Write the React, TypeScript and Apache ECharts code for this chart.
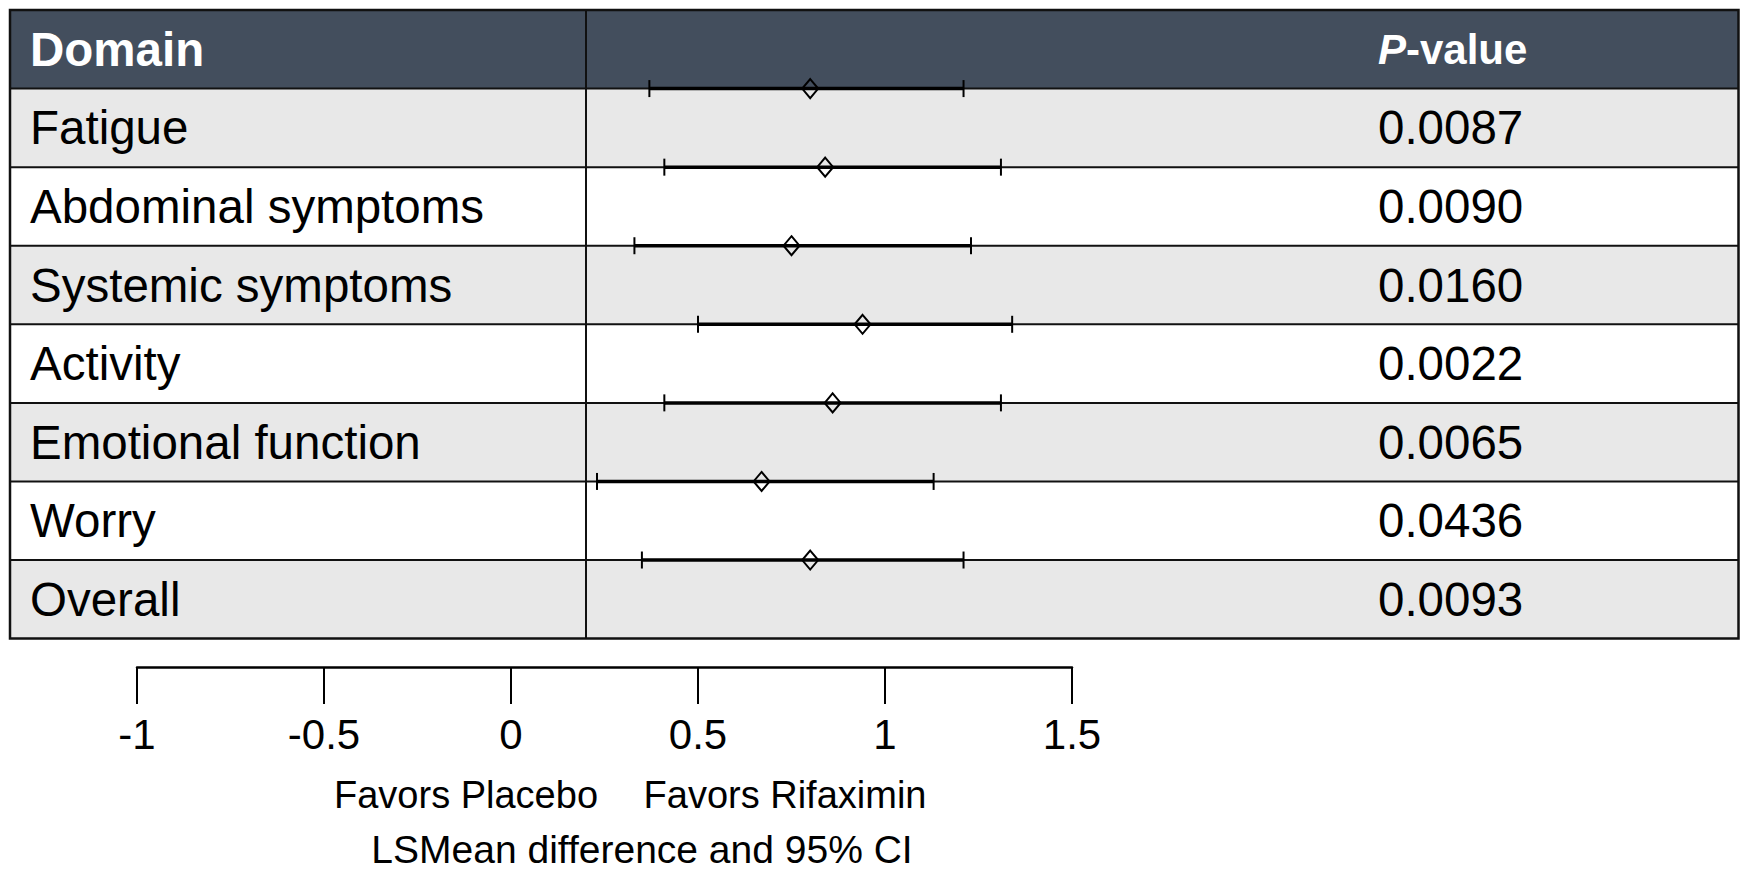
import React, { useEffect, useRef } from "react";
import * as echarts from "echarts";

const categories = [
  "Domain",
  "Fatigue",
  "Abdominal symptoms",
  "Systemic symptoms",
  "Activity",
  "Emotional function",
  "Worry",
  "Overall",
];
const pValues = ["P-value", "0.0087", "0.0090", "0.0160", "0.0022", "0.0065", "0.0436", "0.0093"];
const lsMean = [0.8, 0.84, 0.75, 0.94, 0.86, 0.67, 0.8];
const ciLow = [0.37, 0.41, 0.33, 0.5, 0.41, 0.23, 0.35];
const ciHigh = [1.21, 1.31, 1.23, 1.34, 1.31, 1.13, 1.21];
const xTicks = { min: -1, max: 1.5, interval: 0.5 };
const favorsLeft = "Favors Placebo";
const favorsRight = "Favors Rifaximin";
const axisTitle = "LSMean difference and 95% CI";

const FONT = "'Liberation Sans', Arial, Helvetica, sans-serif";
const W = 1744;
const H = 869;
const T_LEFT = 10;
const T_RIGHT = 1738.5;
const T_TOP = 10;
const T_BOTTOM = 638.6;
const DIVIDER_X = 586;
const AX_LEFT = 137;
const AX_RIGHT = 1072;
const AX_Y = 667;
const HEADER_BG = "#434E5D";
const GREY_BG = "#E8E8E8";

export default function App() {
  const ref = useRef<HTMLDivElement>(null);
  useEffect(() => {
    document.body.style.margin = "0";
    document.body.style.overflow = "hidden";
    if (!ref.current) return;
    const chart = echarts.init(ref.current, undefined, { renderer: "svg" });
    const n = categories.length;
    const rowH = (T_BOTTOM - T_TOP) / n;

    const graphics: any[] = [];
    for (let i = 0; i < n; i++) {
      graphics.push({
        type: "rect",
        z: -10,
        silent: true,
        shape: { x: T_LEFT, y: T_TOP + i * rowH, width: T_RIGHT - T_LEFT, height: rowH },
        style: { fill: i === 0 ? HEADER_BG : i % 2 === 1 ? GREY_BG : "#FFFFFF" },
      });
    }
    for (let i = 1; i < n; i++) {
      const y = T_TOP + i * rowH;
      graphics.push({
        type: "line",
        z: -9,
        silent: true,
        shape: { x1: T_LEFT, y1: y, x2: T_RIGHT, y2: y },
        style: { stroke: "#111", lineWidth: 2 },
      });
    }
    graphics.push({
      type: "line",
      z: -9,
      silent: true,
      shape: { x1: DIVIDER_X, y1: T_TOP, x2: DIVIDER_X, y2: T_BOTTOM },
      style: { stroke: "#111", lineWidth: 2 },
    });
    graphics.push({
      type: "rect",
      z: -9,
      silent: true,
      shape: { x: T_LEFT, y: T_TOP, width: T_RIGHT - T_LEFT, height: T_BOTTOM - T_TOP },
      style: { fill: "none", stroke: "#111", lineWidth: 2.5 },
    });
    graphics.push({
      type: "text",
      x: 466,
      y: 795,
      style: { text: favorsLeft, fontSize: 38, fontFamily: FONT, fill: "#000", align: "center", verticalAlign: "middle" },
    });
    graphics.push({
      type: "text",
      x: 785,
      y: 795,
      style: { text: favorsRight, fontSize: 38, fontFamily: FONT, fill: "#000", align: "center", verticalAlign: "middle" },
    });
    graphics.push({
      type: "text",
      x: 642,
      y: 849,
      style: { text: axisTitle, fontSize: 39, fontFamily: FONT, fill: "#000", align: "center", verticalAlign: "middle" },
    });

    const ciData = lsMean.map((m, i) => [i + 1, ciLow[i], m, ciHigh[i]]);

    chart.setOption({
      animation: false,
      backgroundColor: "#FFFFFF",
      textStyle: { fontFamily: FONT },
      graphic: { elements: graphics },
      grid: [
        { left: AX_LEFT, right: W - AX_RIGHT, top: T_TOP, height: T_BOTTOM - T_TOP },
        { left: AX_LEFT, right: W - AX_RIGHT, top: AX_Y - 60, height: 60 },
      ],
      xAxis: [
        { type: "value", gridIndex: 0, ...xTicks, show: false },
        {
          type: "value",
          gridIndex: 1,
          ...xTicks,
          position: "bottom",
          z: 10,
          splitLine: { show: false },
          axisLine: { show: true, onZero: false, lineStyle: { color: "#000", width: 2.5 } },
          axisTick: { show: true, length: 37, lineStyle: { color: "#000", width: 2 } },
          axisLabel: {
            show: true,
            showMinLabel: true,
            showMaxLabel: true,
            margin: 46,
            fontSize: 42,
            color: "#000",
            fontFamily: FONT,
          },
        },
      ],
      yAxis: [
        {
          type: "category",
          gridIndex: 0,
          data: categories,
          inverse: true,
          position: "left",
          z: 10,
          axisLine: { show: false },
          axisTick: { show: false },
          splitLine: { show: false },
          axisLabel: {
            interval: 0,
            align: "left",
            margin: AX_LEFT - 30,
            formatter: (v: string, i: number) => (i === 0 ? `{h|${v}}` : `{b|${v}}`),
            rich: {
              h: { color: "#FFFFFF", fontWeight: "bold", fontSize: 47.5, fontFamily: FONT },
              b: { color: "#000000", fontSize: 47.5, fontFamily: FONT },
            },
          },
        },
        {
          type: "category",
          gridIndex: 0,
          data: pValues,
          inverse: true,
          position: "right",
          z: 10,
          axisLine: { show: false },
          axisTick: { show: false },
          splitLine: { show: false },
          axisLabel: {
            interval: 0,
            align: "left",
            margin: 1378 - AX_RIGHT,
            formatter: (v: string, i: number) =>
              i === 0 ? `{pi|${v.charAt(0)}}{pb|${v.slice(1)}}` : `{b|${v}}`,
            rich: {
              pi: { color: "#FFFFFF", fontWeight: "bold", fontStyle: "italic", fontSize: 42, fontFamily: FONT },
              pb: { color: "#FFFFFF", fontWeight: "bold", fontSize: 42, fontFamily: FONT },
              b: { color: "#000000", fontSize: 47.5, fontFamily: FONT },
            },
          },
        },
        { type: "value", gridIndex: 1, show: false },
      ],
      series: [
        {
          type: "custom",
          xAxisIndex: 0,
          yAxisIndex: 0,
          z: 20,
          clip: false,
          encode: { x: [1, 2, 3], y: 0 },
          data: ciData,
          renderItem: (params: any, api: any) => {
            const yi = api.value(0);
            const mid = api.coord([api.value(2), yi]);
            const band = api.size([0, 1])[1];
            const y = mid[1] - band / 2;
            const xl = api.coord([api.value(1), yi])[0];
            const xh = api.coord([api.value(3), yi])[0];
            const xm = mid[0];
            const capH = 8.5;
            const dw = 8;
            const dh = 9.5;
            return {
              type: "group",
              children: [
                { type: "line", shape: { x1: xl, y1: y, x2: xh, y2: y }, style: { stroke: "#000", lineWidth: 3.5 } },
                { type: "line", shape: { x1: xl, y1: y - capH, x2: xl, y2: y + capH }, style: { stroke: "#000", lineWidth: 2 } },
                { type: "line", shape: { x1: xh, y1: y - capH, x2: xh, y2: y + capH }, style: { stroke: "#000", lineWidth: 2 } },
                {
                  type: "polygon",
                  shape: { points: [[xm, y - dh], [xm + dw, y], [xm, y + dh], [xm - dw, y]] },
                  style: { fill: "none", stroke: "#000", lineWidth: 2 },
                },
              ],
            };
          },
        },
      ],
    });
    return () => chart.dispose();
  }, []);
  return <div ref={ref} style={{ width: W, height: H }} />;
}
